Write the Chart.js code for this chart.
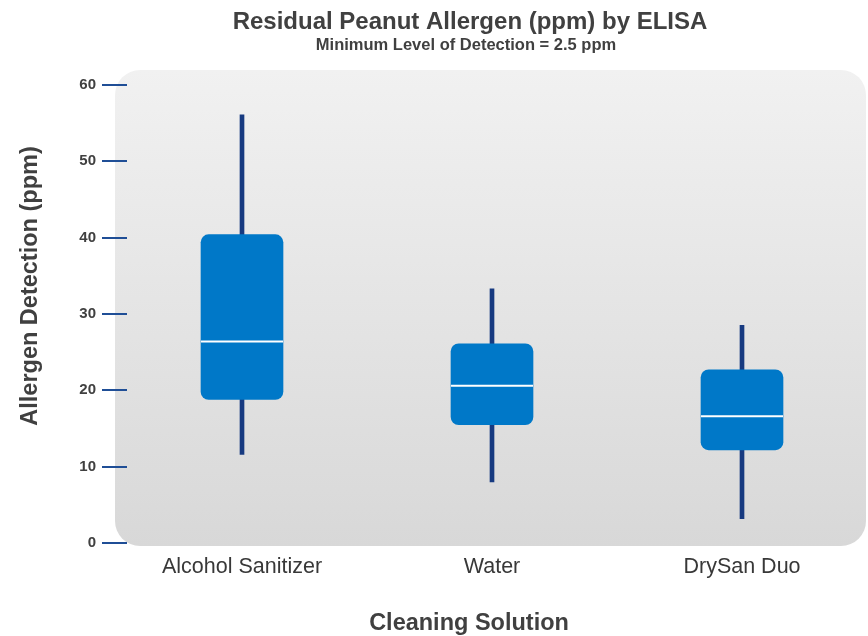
<!DOCTYPE html>
<html>
<head>
<meta charset="utf-8">
<title>Residual Peanut Allergen by ELISA</title>
<script src="https://cdn.jsdelivr.net/npm/chart.js@4"></script>
<style>
  html, body { margin: 0; padding: 0; background: #fff; }
  #wrap { width: 868px; height: 636px; }
</style>
</head>
<body>
<div id="wrap"><canvas id="chart" width="868" height="636"></canvas></div>
<script>
"use strict";

// Values (ppm).
const categories = ["Alcohol Sanitizer", "Water", "DrySan Duo"];
const whiskerLow = [11.6, 8.0, 3.2];
const whiskerHigh = [56.1, 33.3, 28.5];
const quartile1 = [18.8, 15.5, 12.2];
const quartile3 = [40.4, 26.1, 22.7];
const medians = [26.4, 20.6, 16.6];
const yTicks = [0, 10, 20, 30, 40, 50, 60];

const TEXT = "#404040";
const FONT = "'Liberation Sans', Arial, sans-serif";

Chart.defaults.font.family = FONT;
Chart.defaults.color = TEXT;

/** Rounded, gradient plot background plus titles and y tick marks. */
const decorations = {
  id: "decorations",
  beforeDraw(chart) {
    const { ctx, chartArea: a } = chart;
    const left = a.left - 2, top = a.top - 15, right = a.right - 1, bottom = a.bottom + 3;
    const grad = ctx.createLinearGradient(0, top, 0, bottom);
    grad.addColorStop(0, "#f1f1f1");
    grad.addColorStop(1, "#d8d8d8");
    ctx.save();
    ctx.fillStyle = grad;
    ctx.beginPath();
    ctx.roundRect(left, top, right - left, bottom - top, 25);
    ctx.fill();
    ctx.restore();
  },
  beforeDatasetsDraw(chart) {
    const { ctx, chartArea: a, scales } = chart;
    ctx.save();
    ctx.strokeStyle = "#1f4e96";
    ctx.lineWidth = 2;
    for (const t of scales.y.ticks) {
      const y = Math.round(scales.y.getPixelForValue(t.value));
      ctx.beginPath();
      ctx.moveTo(a.left - 15, y);
      ctx.lineTo(a.left + 10, y);
      ctx.stroke();
    }
    ctx.restore();
  },
  afterDraw(chart) {
    const { ctx } = chart;
    ctx.save();
    ctx.fillStyle = TEXT;
    ctx.textAlign = "center";
    ctx.textBaseline = "alphabetic";
    ctx.font = "bold 24px " + FONT;
    ctx.fillText("Residual Peanut Allergen (ppm) by ELISA", 470, 29);
    ctx.font = "bold 16.5px " + FONT;
    ctx.fillText("Minimum Level of Detection = 2.5 ppm", 466, 50);
    ctx.font = "bold 23.5px " + FONT;
    ctx.fillText("Cleaning Solution", 469, 630);
    ctx.translate(37, 286);
    ctx.rotate(-Math.PI / 2);
    ctx.font = "bold 23.5px " + FONT;
    ctx.fillText("Allergen Detection (ppm)", 0, 0);
    ctx.restore();
  },
};

new Chart(document.getElementById("chart"), {
  type: "bar",
  data: {
    labels: categories,
    datasets: [
      {
        type: "line",
        label: "Median",
        data: medians,
        showLine: false,
        pointStyle: "line",
        pointRadius: 41,
        pointBorderWidth: 2,
        pointBorderColor: "#ffffff",
        order: 1,
      },
      {
        label: "Interquartile range",
        data: categories.map((_, i) => [quartile1[i], quartile3[i]]),
        backgroundColor: "#0078c8",
        borderWidth: 0,
        borderSkipped: false,
        borderRadius: 8,
        barThickness: 82,
        grouped: false,
        order: 2,
      },
      {
        label: "Range",
        data: categories.map((_, i) => [whiskerLow[i], whiskerHigh[i]]),
        backgroundColor: "#173a80",
        borderWidth: 0,
        borderSkipped: false,
        barThickness: 4,
        grouped: false,
        order: 3,
      },
    ],
  },
  options: {
    responsive: false,
    animation: false,
    events: [],
    layout: { autoPadding: false, padding: { top: 85, right: 1, bottom: 0, left: 0 } },
    plugins: {
      legend: { display: false },
      tooltip: { enabled: false },
      title: { display: false },
    },
    scales: {
      x: {
        grid: { display: false, drawTicks: false },
        border: { display: false },
        ticks: { font: { size: 21.5 }, color: "#383838", padding: 11, maxRotation: 0 },
        afterFit(scale) { scale.height = 93; },
      },
      y: {
        min: yTicks[0],
        max: yTicks[yTicks.length - 1],
        grid: { display: false, drawTicks: false },
        border: { display: false },
        afterBuildTicks(scale) { scale.ticks = yTicks.map((value) => ({ value })); },
        ticks: { font: { size: 15, weight: "bold" }, color: TEXT, padding: 21 },
        afterFit(scale) { scale.width = 117; },
      },
    },
  },
  plugins: [decorations],
});
</script>
</body>
</html>
